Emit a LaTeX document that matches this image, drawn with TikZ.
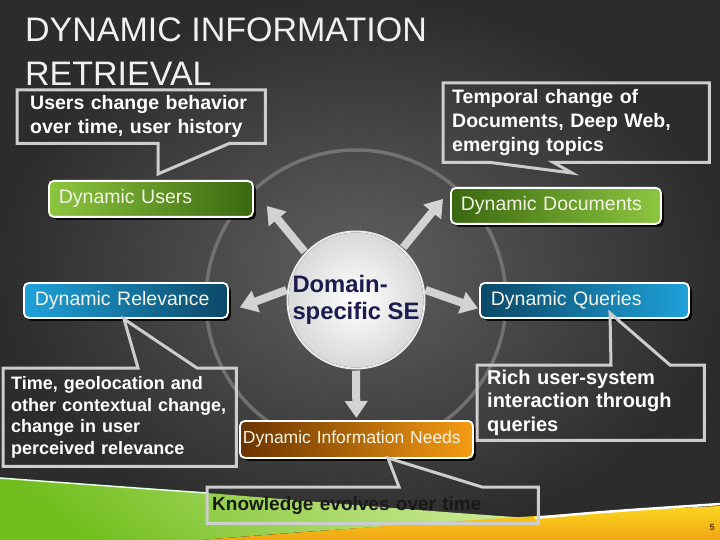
\documentclass[tikz,border=0pt]{standalone}
\usepackage{fontspec}
\setmainfont{Liberation Sans}
\usetikzlibrary{arrows.meta,shadows,patterns.meta}

\definecolor{bgin}{HTML}{606060}
\definecolor{bgout}{HTML}{2C2C2C}
\definecolor{grlight}{HTML}{8DC63F}
\definecolor{grdark}{HTML}{3A6810}
\definecolor{bllight}{HTML}{1FA2DA}
\definecolor{bldark}{HTML}{0B4868}
\definecolor{ordark}{HTML}{6A3300}
\definecolor{orlight}{HTML}{F59C12}
\definecolor{grpale}{HTML}{CBE996}
\definecolor{grvivid}{HTML}{72BE1E}
\definecolor{yelA}{HTML}{FAD61E}
\definecolor{yelB}{HTML}{EFA515}
\definecolor{rimgray}{HTML}{CDCDCD}
\definecolor{navy}{HTML}{1C1C4E}
\definecolor{labeltext}{HTML}{F4F4E4}

\begin{document}
\begin{tikzpicture}[x=1pt, y=-1pt,
    box/.style={rounded corners=5pt, draw=white, line width=1.8pt, anchor=north west,
      minimum height=36pt, align=left, text=labeltext, font=\fontsize{19.5}{24}\selectfont,
      drop shadow={shadow xshift=3pt, shadow yshift=-3pt, fill=black, opacity=.85}},
    note/.style={anchor=north west, align=left, text=white, inner ysep=0pt,
      font=\bfseries\fontsize{19.5}{24}\selectfont},
    rim/.style={draw=rimgray, line width=3pt},
    ray/.style={draw=gray!35!white, line width=8pt, shorten <=2pt,
      -{Triangle[length=17pt, width=22pt]}}
  ]
        \useasboundingbox ( 0, 0 ) rectangle ( 720, 540 );
        \clip ( 0, 0 ) rectangle ( 720, 540 );

        % background
        \shade [ inner color=bgin, outer color=bgout ] ( 0, 0 ) rectangle ( 720, 540 );
        \fill [ pattern={Dots[radius=0.5pt, distance=6pt]}, pattern color=white, opacity=0.1 ] ( 0, 0 ) rectangle ( 720, 540 );

        % wave
        \shade [ top color=grpale, bottom color=grvivid, shading angle=-40 ] ( 0, 478 ) .. controls ( 80, 484 ) and ( 150, 489 ) .. ( 207, 493 ) .. controls ( 330, 503 ) and ( 450, 513 ) .. ( 545, 519 ) .. controls ( 400, 524 ) and ( 300, 532 ) .. ( 200, 540 ) -- ( 0, 540 ) -- cycle;
        \draw [ white!90!green, line width=1.5pt ] ( 0, 478 ) .. controls ( 80, 484 ) and ( 150, 489 ) .. ( 207, 493 );
        \shade [ top color=yelA, bottom color=yelB ] ( 200, 540 ) .. controls ( 330, 530 ) and ( 540, 514 ) .. ( 720, 506 ) -- ( 720, 540 ) -- cycle;
        \draw [ white, line width=2.5pt ] ( 535, 518 ) .. controls ( 600, 512 ) .. ( 720, 504 );

        % ring
        \draw [ gray, line width=3.5pt, opacity=.75 ] ( 356, 300 ) circle [ radius=150 ];

        % title
        \node [ anchor=north west, inner sep=0pt, align=left, text=gray!12, font=\fontsize{34}{44}\selectfont ] (title) at ( 25, 18 ) {DYNAMIC INFORMATION\\RETRIEVAL};

        % boxes
        \node [ box, left color=grlight, right color=grdark, text width=184pt, inner xsep=10pt ] (users) at ( 48, 180 ) {Dynamic Users};
        \node [ box, left color=grdark, right color=grlight, text width=190pt, inner xsep=10pt ] (docs) at ( 450, 187 ) {Dynamic Documents};
        \node [ box, left color=bllight, right color=bldark, text width=182pt, inner xsep=11pt, minimum height=35pt ] (relev) at ( 23, 282 ) {Dynamic Relevance};
        \node [ box, left color=bldark, right color=bllight, text width=187pt, inner xsep=11pt, minimum height=35pt ] (queries) at ( 479, 282 ) {Dynamic Queries};
        \node [ box, left color=ordark, right color=orlight, text width=227pt, inner xsep=3pt, minimum height=37pt, font=\fontsize{17.5}{21}\selectfont ] (needs) at ( 239, 420 ) {Dynamic Information Needs};

        % centre
        \node [ circle, minimum size=132pt, inner sep=0pt, inner color=white, outer color=gray!30, draw=gray!40!black, line width=1pt, text=navy, align=left, font=\bfseries\fontsize{23.8}{27}\selectfont ] (se) at ( 356, 300 ) {Domain-\\specific SE};
        \draw [ white!85!gray, line width=2pt ] ( 356, 300 ) circle [ radius=68.5 ];

        % arrows
        \draw [ ray ] (se.137) -- ([shift={( 13, 7 )}]users.east);
        \draw [ ray ] (se.48) -- ([shift={( -7, -7 )}]docs.west);
        \draw [ ray ] (se.171) -- ([shift={( 11, 7 )}]relev.east);
        \draw [ ray ] (se.9) -- ([shift={( -1, 8 )}]queries.west);
        \draw [ ray ] (se.south) -- ([shift={( 0, -2 )}]needs.north);

        % callout 1
        \node [ note, text width=222pt, inner xsep=13pt, minimum height=53pt ] (c1) at ( 17, 90 ) {Users change behavior\\over time, user history};
        \coordinate (t1) at ( 158, 174 );
        \draw [ rim ] (c1.north west) -- (c1.north east) -- (c1.south east) -- ([xshift=-36pt]c1.south east) -- (t1) -- (t1 |- c1.south) -- (c1.south west) -- cycle;

        % callout 2
        \node [ note, text width=248pt, inner xsep=9pt, minimum height=79pt ] (c2) at ( 443, 83 ) {Temporal change of\\Documents, Deep Web,\\emerging topics};
        \coordinate (t2) at ( 572, 173 );
        \draw [ rim ] (c2.north west) -- (c2.north east) -- (c2.south east) -- ([xshift=-156pt]c2.south east) -- (t2) -- ([xshift=47pt]c2.south west) -- (c2.south west) -- cycle;

        % callout 3
        \node [ note, text width=217pt, inner xsep=8pt, minimum height=98pt, font=\bfseries\fontsize{18}{21.7}\selectfont ] (c3) at ( 3, 368 ) {Time, geolocation and\\other contextual change,\\change in user\\perceived relevance};
        \coordinate (t3) at ( 124, 319 );
        \draw [ rim ] (c3.north west) -- ([xshift=135pt]c3.north west) -- (t3) -- ([xshift=194pt]c3.north west) -- (c3.north east) -- (c3.south east) -- (c3.south west) -- cycle;

        % callout 4
        \node [ note, text width=207pt, inner xsep=10pt, minimum height=75pt, font=\bfseries\fontsize{20}{23.5}\selectfont ] (c4) at ( 477, 365 ) {Rich user-system\\interaction through\\queries};
        \coordinate (t4) at ( 610, 313 );
        \draw [ rim ] (c4.north west) -- ([xshift=134pt]c4.north west) -- (t4) -- ([xshift=193pt]c4.north west) -- (c4.north east) -- (c4.south east) -- (c4.south west) -- cycle;

        % callout 5
        \node [ note, text width=321pt, inner xsep=5pt, minimum height=36pt, text=black!90, font=\bfseries\fontsize{19}{23}\selectfont ] (c5) at ( 207, 487 ) {Knowledge evolves over time};
        \coordinate (t5) at ( 388, 458 );
        \draw [ rim ] (c5.north west) -- ([xshift=192pt]c5.north west) -- (t5) -- ([xshift=275pt]c5.north west) -- (c5.north east) -- (c5.south east) -- (c5.south west) -- cycle;

        % page
        \node [ text=black!60!orange, font=\bfseries\fontsize{9}{9}\selectfont ] (page) at ( 712, 527 ) {5};
    \end{tikzpicture}
\end{document}
